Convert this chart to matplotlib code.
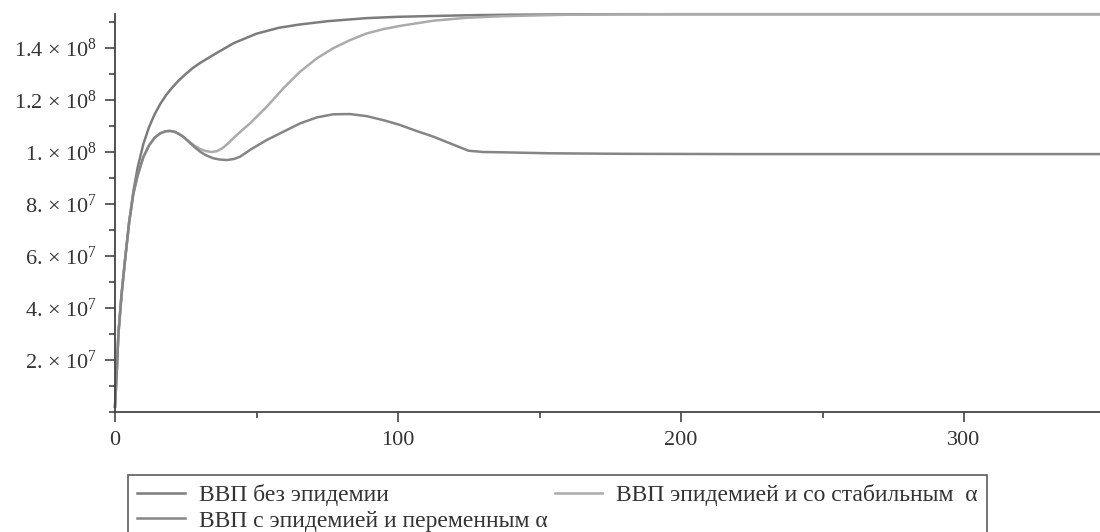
import matplotlib
matplotlib.use('Agg')
import numpy as np
from matplotlib import pyplot as plt
from matplotlib.ticker import MultipleLocator

plt.rcParams['font.family'] = ['Liberation Serif', 'DejaVu Serif']
plt.rcParams['mathtext.fontset'] = 'custom'
plt.rcParams['mathtext.rm'] = 'Liberation Serif'
plt.rcParams['mathtext.it'] = 'Liberation Serif:italic'

# GDP without epidemic (units of 1e7)
t_base = [0, 0.6, 1.2, 2.3, 3.5, 5, 6.5, 8, 10, 12, 14, 16, 18, 20, 22.5, 25, 27.5, 30,
          35, 42, 50, 58, 65, 75, 89, 100, 112, 125, 140, 160, 180, 200, 250, 300, 350]
gdp_base = [0.2, 1.5, 3.0, 4.5, 5.8, 7.3, 8.5, 9.4, 10.3, 10.95, 11.45, 11.85, 12.18,
            12.45, 12.75, 13.0, 13.23, 13.42, 13.75, 14.19, 14.55, 14.78, 14.9, 15.03,
            15.15, 15.2, 15.23, 15.26, 15.28, 15.295, 15.3, 15.3, 15.3, 15.3, 15.3]

# GDP with epidemic, stable alpha
t_stab = [0, 0.6, 1.2, 2.3, 3.5, 5, 6.5, 8, 10, 12, 14, 16, 18, 19.4, 21, 22.5, 24.1,
          26, 28, 30, 32, 34, 36, 38, 40, 42, 45, 47.7, 53.6, 59.5, 65.4, 71.3, 77.1,
          83, 88.9, 95, 100.7, 112.5, 124, 136, 159.6, 180, 200, 250, 300, 350]
gdp_stab = [0.2, 1.5, 3.0, 4.5, 5.8, 7.3, 8.4, 9.1, 9.8, 10.25, 10.55, 10.72, 10.8,
            10.81, 10.78, 10.7, 10.59, 10.42, 10.25, 10.12, 10.04, 10.0, 10.03, 10.15,
            10.33, 10.55, 10.85, 11.1, 11.74, 12.45, 13.09, 13.6, 13.99, 14.3, 14.56,
            14.73, 14.85, 15.05, 15.16, 15.22, 15.28, 15.295, 15.3, 15.3, 15.3, 15.3]

# GDP with epidemic, variable alpha
t_var = [0, 0.6, 1.2, 2.3, 3.5, 5, 6.5, 8, 10, 12, 14, 16, 18, 19.4, 21, 22.5, 24.1,
         26, 28, 30, 32, 34.7, 37, 39.5, 42, 44.2, 48, 53.6, 59.5, 65.4, 71.3, 77.1,
         83, 88.9, 95, 100.7, 106, 112.5, 118, 124.9, 130, 136, 153.7, 180, 220, 300, 350]
gdp_var = [0.2, 1.5, 3.0, 4.5, 5.8, 7.3, 8.4, 9.1, 9.8, 10.25, 10.55, 10.72, 10.8,
           10.81, 10.78, 10.7, 10.59, 10.4, 10.2, 10.02, 9.88, 9.76, 9.71, 9.69, 9.73,
           9.82, 10.1, 10.46, 10.78, 11.1, 11.33, 11.45, 11.46, 11.38, 11.22, 11.04,
           10.83, 10.59, 10.35, 10.05, 10.0, 9.99, 9.95, 9.93, 9.92, 9.92, 9.92]

labels = ['ВВП без эпидемии', 'ВВП с эпидемией и переменным α',
          'ВВП эпидемией и со стабильным  α']
xticks = [0, 100, 200, 300]
yticks = [2e7, 4e7, 6e7, 8e7, 1e8, 1.2e8, 1.4e8]
ytick_labels = ['2. × $10^{7}$', '4. × $10^{7}$', '6. × $10^{7}$', '8. × $10^{7}$',
                '1. × $10^{8}$', '1.2 × $10^{8}$', '1.4 × $10^{8}$']

fig = plt.figure(figsize=(11, 5.32), dpi=100)
ax = fig.add_axes([115/1100, 1 - 412/532, 990.5/1100, (412 - 14.2)/532])

l1, = ax.plot(t_base, np.array(gdp_base)*1e7, color='#7c7c7c', lw=1.8, clip_on=False)
l3, = ax.plot(t_stab, np.array(gdp_stab)*1e7, color='#ababab', lw=1.8, clip_on=False)
l2, = ax.plot(t_var, np.array(gdp_var)*1e7, color='#858585', lw=1.8, clip_on=False)

ax.set_xlim(0, 350)
ax.set_ylim(0, 1.53e8)
ax.spines['top'].set_visible(False)
ax.spines['right'].set_visible(False)
for s in ['left', 'bottom']:
    ax.spines[s].set_color('#444444')
    ax.spines[s].set_linewidth(1.3)

ax.set_xticks(xticks)
ax.set_yticks(yticks, ytick_labels)
ax.xaxis.set_minor_locator(MultipleLocator(50))
ax.yaxis.set_minor_locator(MultipleLocator(1e7))
ax.tick_params(which='major', length=7, width=1.2, color='#444444', labelsize=16,
               labelcolor='#333333')
ax.tick_params(which='minor', length=4, width=1.2, color='#444444')
ax.tick_params(axis='x', pad=7)
ax.tick_params(axis='y', pad=6)

leg = fig.legend([l1, l2, l3], labels, loc='upper left',
                 bbox_to_anchor=(128/1100, 1 - 475/532), ncol=2, fontsize=17,
                 frameon=True, fancybox=False, edgecolor='#333333',
                 handlelength=2.0, handletextpad=0.6, columnspacing=0.3,
                 borderpad=0.4, labelspacing=0.15, borderaxespad=0)
leg.get_frame().set_linewidth(1.2)
for t in leg.get_texts():
    t.set_color('#333333')

fig.savefig('out.png', dpi=100)
